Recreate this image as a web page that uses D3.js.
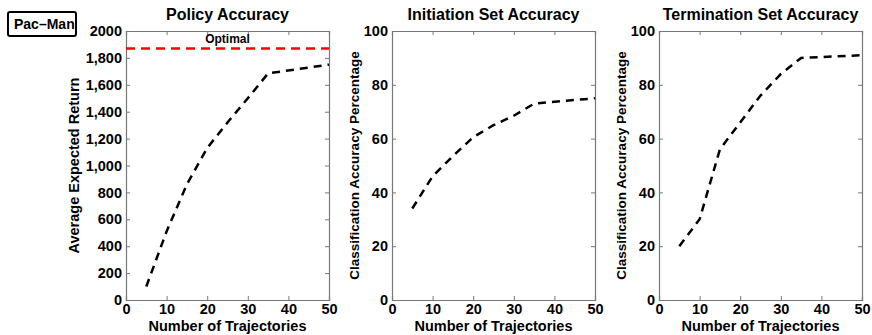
<!DOCTYPE html>
<html>
<head>
<meta charset="utf-8">
<script src="https://cdn.jsdelivr.net/npm/d3@7"></script>
<style>
  body { margin: 0; background: #fff; }
  text { font-family: "Liberation Sans", Arial, sans-serif; font-weight: bold; }
</style>
</head>
<body>
<svg class="chart" width="872" height="335"></svg>
<script>
// data
var trajectories = [5, 10, 15, 20, 25, 30, 35, 50];
var policyReturn = [100, 510, 860, 1130, 1320, 1500, 1685, 1750];
var initiationAcc = [34, 46, 53.5, 60.5, 65, 68.5, 73, 75];
var terminationAcc = [20, 30, 56, 66, 76, 84, 90, 91];
var optimalReturn = 1870;

var xTicks = [0, 10, 20, 30, 40, 50];
var returnTicks = [0, 200, 400, 600, 800, 1000, 1200, 1400, 1600, 1800, 2000];
var pctTicks = [0, 20, 40, 60, 80, 100];

var panels = [
  {title: "Policy Accuracy", ylabel: "Average Expected Return", values: policyReturn,
   ymax: 2000, ticks: returnTicks, left: 126},
  {title: "Initiation Set Accuracy", ylabel: "Classification Accuracy Percentage", values: initiationAcc,
   ymax: 100, ticks: pctTicks, left: 392},
  {title: "Termination Set Accuracy", ylabel: "Classification Accuracy Percentage", values: terminationAcc,
   ymax: 100, ticks: pctTicks, left: 659}
];

var plotTop = 31, height = 269, width = 203;
var svg = d3.select(".chart");

// Pac-Man label box
svg.append("rect")
  .attr("x", 8).attr("y", 12).attr("width", 68).attr("height", 24)
  .attr("rx", 2).attr("fill", "none").attr("stroke", "#000").attr("stroke-width", 2);
svg.append("text")
  .attr("x", 14).attr("y", 29).attr("font-size", 14).text("Pac\u2013Man");

var fmt = d3.format(",");

panels.forEach(function(p, i) {
  var g = svg.append("g").attr("transform", "translate(" + p.left + "," + plotTop + ")");
  var x = d3.scaleLinear().domain([0, 50]).range([0, width]);
  var y = d3.scaleLinear().domain([0, p.ymax]).range([height, 0]);

  // ticks pointing in, on all four sides
  var tickFmt = function(d) { return (p.ymax > 100 && d > 0 && d < 2000) ? fmt(d) : d; };
  var axes = [
    g.append("g").attr("transform", "translate(0," + height + ")")
      .call(d3.axisBottom(x).tickValues(xTicks).tickSize(-4).tickPadding(4)),
    g.append("g").call(d3.axisLeft(y).tickValues(p.ticks).tickSize(-4).tickPadding(4).tickFormat(tickFmt)),
    g.append("g").call(d3.axisTop(x).tickValues(xTicks).tickSize(-4).tickFormat("")),
    g.append("g").attr("transform", "translate(" + width + ",0)")
      .call(d3.axisRight(y).tickValues(p.ticks).tickSize(-4).tickFormat(""))
  ];
  axes.forEach(function(a) {
    a.select(".domain").attr("stroke", "#777").attr("stroke-width", 1.2);
    a.selectAll(".tick line").attr("stroke", "#777");
    a.selectAll(".tick text").attr("fill", "#000").attr("font-size", 14.5)
      .attr("font-family", "Liberation Sans, Arial, sans-serif").attr("font-weight", "bold");
  });

  g.append("text").attr("x", width / 2).attr("y", -11).attr("text-anchor", "middle")
    .attr("font-size", 16).text(p.title);
  g.append("text").attr("x", width / 2).attr("y", height + 31).attr("text-anchor", "middle")
    .attr("font-size", 14.5).text("Number of Trajectories");
  g.append("text")
    .attr("transform", "translate(" + (i === 0 ? -47 : -33) + "," + (height / 2) + ") rotate(-90)")
    .attr("text-anchor", "middle").attr("font-size", i === 0 ? 14.5 : 13.5).text(p.ylabel);

  if (i === 0) {
    g.append("line")
      .attr("x1", 0).attr("x2", width)
      .attr("y1", y(optimalReturn)).attr("y2", y(optimalReturn))
      .attr("stroke", "#f00").attr("stroke-width", 2.5).attr("stroke-dasharray", "9,6");
    g.append("text").attr("x", x(25)).attr("y", y(optimalReturn) - 5)
      .attr("text-anchor", "middle").attr("font-size", 12).text("Optimal");
  }

  var line = d3.line()
    .x(function(d, j) { return x(trajectories[j]); })
    .y(function(d) { return y(d); });
  g.append("path").datum(p.values)
    .attr("d", line).attr("fill", "none")
    .attr("stroke", "#000").attr("stroke-width", 2.5).attr("stroke-dasharray", "8,6");
});
</script>
</body>
</html>
